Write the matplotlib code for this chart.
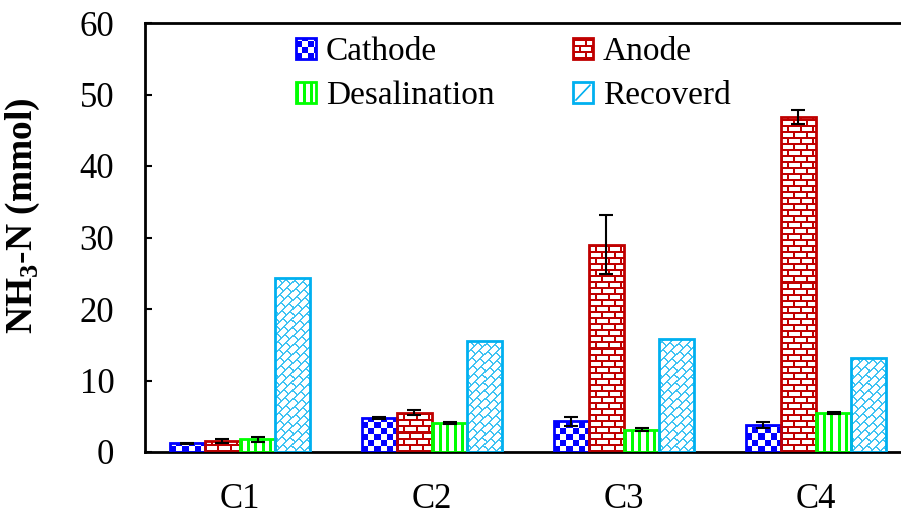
import numpy as np
import matplotlib
matplotlib.use("Agg")
import matplotlib.pyplot as plt
from matplotlib.patches import Rectangle, Patch
from matplotlib.legend_handler import HandlerBase

groups = ["C1", "C2", "C3", "C4"]
series = ["Cathode", "Anode", "Desalination", "Recoverd"]

cathode = [1.2, 4.7, 4.3, 3.8]
cathode_err = [0.1, 0.15, 0.65, 0.45]
anode = [1.5, 5.5, 29.0, 46.9]
anode_err = [0.3, 0.35, 4.1, 1.0]
desalination = [1.8, 4.0, 3.1, 5.5]
desalination_err = [0.35, 0.15, 0.2, 0.15]
recovered = [24.3, 15.5, 15.8, 13.1]
recovered_err = [0.0, 0.0, 0.0, 0.0]

values = [cathode, anode, desalination, recovered]
errors = [cathode_err, anode_err, desalination_err, recovered_err]
colors = ["#0000ff", "#c00000", "#00ff00", "#00b0f0"]
kinds = ["checker", "brick", "vstripe", "diag"]

plt.rcParams["font.family"] = ["Liberation Serif", "DejaVu Serif"]
plt.rcParams["mathtext.fontset"] = "custom"
plt.rcParams["mathtext.rm"] = "Liberation Serif"
plt.rcParams["mathtext.bf"] = "Liberation Serif:bold"


def texture(kind, w, h):
    # boolean mask, row 0 is the bottom of the bar
    yy, xx = np.mgrid[0:h, 0:w]
    if kind == "checker":
        return ((xx // 6 + yy // 6) % 2) == 0
    if kind == "brick":
        row = yy // 6
        mortar_h = (yy % 6) < 2
        mortar_v = ((xx + (row % 2) * 6) % 12) < 2
        return mortar_h | mortar_v
    if kind == "vstripe":
        return (xx % 7) < 3
    # diagonal brick pattern
    v = xx - yy
    u = xx + yy
    lane = v // 9
    along = (v % 9) < 1.5
    cross = ((u + (lane % 2) * 7) % 14) < 1.5
    return along | cross


def to_rgb_img(mask, color, light=False):
    rgb = np.array(matplotlib.colors.to_rgb(color))
    if light:
        rgb = 0.25 + 0.75 * rgb
    img = np.ones(mask.shape + (3,))
    img[mask] = rgb
    return img


class TextureHandler(HandlerBase):
    def __init__(self, kind, color):
        super().__init__()
        self.kind = kind
        self.color = color

    def create_artists(self, legend, orig_handle, xdescent, ydescent,
                       width, height, fontsize, trans):
        x0, y0 = -xdescent, -ydescent
        s = 0.72  # one pixel in points at 100 dpi
        nw = max(1, int(round(width / s)))
        nh = max(1, int(round(height / s)))
        artists = [Rectangle((x0, y0), width, height, facecolor="white",
                             edgecolor="none", transform=trans)]
        if self.kind == "diag":
            artists.append(matplotlib.lines.Line2D(
                [x0 + 0.15 * width, x0 + 0.85 * width],
                [y0 + 0.15 * height, y0 + 0.85 * height],
                color=self.color, lw=1.2, transform=trans))
        else:
            mask = texture(self.kind, nw, nh)
            for j in range(nh):
                row = mask[j]
                i = 0
                while i < nw:
                    if row[i]:
                        k = i
                        while k < nw and row[k]:
                            k += 1
                        artists.append(Rectangle((x0 + i * s, y0 + j * s), (k - i) * s, s,
                                                 facecolor=self.color, edgecolor="none",
                                                 transform=trans))
                        i = k
                    else:
                        i += 1
        artists.append(Rectangle((x0, y0), width, height, facecolor="none",
                                 edgecolor=self.color, lw=2, transform=trans))
        return artists


fig = plt.figure(figsize=(9.01, 5.15), dpi=100)
ax = fig.add_axes([145 / 901, 63 / 515, 767 / 901, 429 / 515])
ax.set_xlim(-0.495, 3.5)
ax.set_ylim(0, 60)

x = np.arange(len(groups))
width = 0.183
offsets = (np.arange(len(series)) - 1.5) * width

for s_i in range(len(series)):
    xs = x + offsets[s_i]
    bars = ax.bar(xs, values[s_i], width, facecolor="none", edgecolor=colors[s_i],
                  lw=2, zorder=3)
    for rect in bars:
        bx0 = rect.get_x()
        bx1 = bx0 + rect.get_width()
        bh = rect.get_height()
        p0 = ax.transData.transform((bx0, 0))
        p1 = ax.transData.transform((bx1, bh))
        w_px = max(1, int(round(p1[0] - p0[0])))
        h_px = max(1, int(round(p1[1] - p0[1])))
        img = to_rgb_img(texture(kinds[s_i], w_px, h_px), colors[s_i],
                         light=(kinds[s_i] == "diag"))
        im = ax.imshow(img, extent=(bx0, bx1, 0, bh), origin="lower",
                       interpolation="nearest", aspect="auto", zorder=2)
        im.set_clip_path(rect)
    err = np.array(errors[s_i])
    keep = err > 0
    ax.errorbar(xs[keep], np.array(values[s_i])[keep], yerr=err[keep], fmt="none",
                ecolor="black", elinewidth=1.5, capsize=5, capthick=1.5, zorder=4)

ax.set_xlim(-0.495, 3.5)
ax.set_ylim(0, 60)
ax.set_xticks(x)
ax.set_xticklabels(groups, fontsize=25)
ax.set_yticks(np.arange(0, 61, 10))
ax.tick_params(axis="y", direction="in", length=5, width=1.5, labelsize=25, pad=22)
ax.tick_params(axis="x", length=0, pad=22)
ax.spines["right"].set_visible(False)
for side in ("left", "bottom", "top"):
    ax.spines[side].set_linewidth(2)

ax.set_ylabel(r"NH$_\mathbf{3}$-N (mmol)", fontsize=27, fontweight="bold")
ax.yaxis.set_label_coords(-0.134, 0.552)

# row-wise legend: matplotlib fills columns first
order = [0, 2, 1, 3]
handles = [Patch(label=series[i]) for i in order]
handler_map = {h: TextureHandler(kinds[i], colors[i]) for h, i in zip(handles, order)}
ax.legend(handles=handles, labels=[series[i] for i in order], handler_map=handler_map,
          ncol=2, loc="upper left", bbox_to_anchor=(296 / 901, 1 - 37 / 515),
          bbox_transform=fig.transFigure, frameon=False, fontsize=24,
          handlelength=0.6, handleheight=0.6, handletextpad=0.3,
          columnspacing=2.35, labelspacing=0.4, borderpad=0, borderaxespad=0)

fig.savefig("out.png", dpi=100)
